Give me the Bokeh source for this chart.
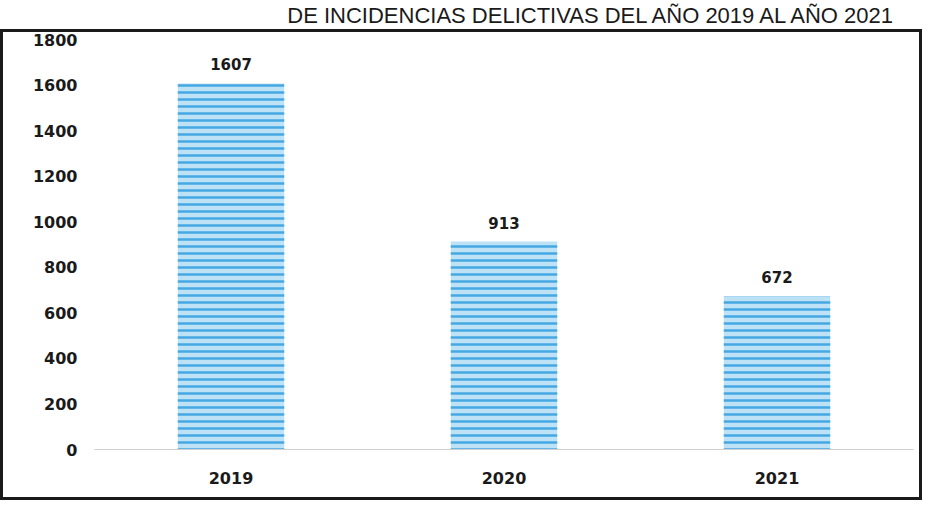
from bokeh.plotting import figure
from bokeh.layouts import column
from bokeh.models import ColumnDataSource, FixedTicker, Range1d
from bokeh.embed import file_html
from bokeh.resources import INLINE
from bokeh.core.properties import value

years = ["2019", "2020", "2021"]
incidencias = [1607, 913, 672]
y_ticks = [0, 200, 400, 600, 800, 1000, 1200, 1400, 1600, 1800]
title_text = "DE INCIDENCIAS DELICTIVAS DEL AÑO 2019 AL AÑO 2021"

src = ColumnDataSource(dict(x=years, y=incidencias, lab=[str(v) for v in incidencias]))

# title strip
t = figure(width=922, height=29, toolbar_location=None, output_backend="svg",
           x_range=Range1d(0, 1), y_range=Range1d(0, 1), min_border=0)
t.axis.visible = False
t.grid.visible = False
t.outline_line_color = None
t.text(x=[0.985], y=[0.5], text=[title_text], text_align="right", text_baseline="middle",
       text_font=value("Liberation Sans"), text_font_size="22px", text_color="#1a1a1a")

p = figure(width=922, height=471, x_range=years, y_range=Range1d(0, 1800),
           toolbar_location=None, output_backend="svg",
           min_border_left=91, min_border_right=12, min_border_top=7, min_border_bottom=54)
p.styles = {"border": "3px solid #1a1a1a", "box-sizing": "border-box"}
p.outline_line_color = None
p.grid.visible = False

p.vbar(x="x", top="y", width=0.39, source=src, line_color=None,
       fill_color="#bde2f6", hatch_pattern="horizontal_line", hatch_color="#2f9ddd",
       hatch_scale=7, hatch_weight=2.5, hatch_alpha=0.85)
p.text(x="x", y="y", text="lab", source=src, text_align="center", text_baseline="bottom",
       y_offset=-13, text_font=value("DejaVu Sans"), text_font_style="bold",
       text_font_size="15px", text_color="#1a1a1a")

p.yaxis.ticker = FixedTicker(ticks=y_ticks)
p.yaxis.axis_line_color = None
p.yaxis.major_tick_line_color = None
p.yaxis.minor_tick_line_color = None
p.yaxis.major_label_standoff = 11
p.yaxis.major_label_text_font = "DejaVu Sans"
p.yaxis.major_label_text_font_style = "bold"
p.yaxis.major_label_text_font_size = "16px"
p.yaxis.major_label_text_color = "#1a1a1a"

p.xaxis.axis_line_color = "#d0d0d0"
p.xaxis.major_tick_line_color = None
p.xaxis.minor_tick_line_color = None
p.xaxis.major_label_standoff = 16
p.xaxis.major_label_text_font = "DejaVu Sans"
p.xaxis.major_label_text_font_style = "bold"
p.xaxis.major_label_text_font_size = "16px"
p.xaxis.major_label_text_color = "#1a1a1a"

layout = column(t, p, spacing=0)
open("out.html", "w").write(file_html(layout, INLINE))
